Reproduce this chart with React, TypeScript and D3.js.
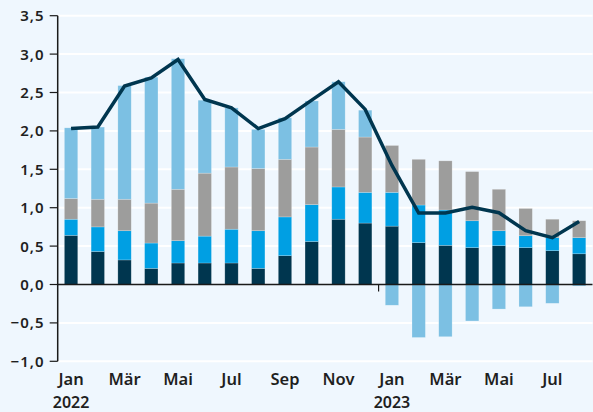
import React from "react";
import * as d3 from "d3";

const months = ["Jan", "Feb", "Mär", "Apr", "Mai", "Jun", "Jul", "Aug", "Sep", "Okt", "Nov", "Dez", "Jan", "Feb", "Mär", "Apr", "Mai", "Jun", "Jul", "Aug"];
const monthKeys = months.map((m, i) => `${i < 12 ? 2022 : 2023}-${m}`);
const labelEvery = [0, 2, 4, 6, 8, 10, 12, 14, 16, 18];
const yearLabels = [{ idx: 0, text: "2022" }, { idx: 12, text: "2023" }];

const navy = [0.64, 0.43, 0.32, 0.21, 0.28, 0.28, 0.28, 0.21, 0.375, 0.56, 0.85, 0.8, 0.76, 0.545, 0.51, 0.48, 0.505, 0.48, 0.44, 0.4];
const blue = [0.21, 0.32, 0.38, 0.33, 0.29, 0.35, 0.44, 0.49, 0.505, 0.48, 0.42, 0.4, 0.44, 0.49, 0.46, 0.35, 0.195, 0.155, 0.17, 0.21];
const gray = [0.27, 0.36, 0.41, 0.52, 0.67, 0.82, 0.81, 0.81, 0.75, 0.75, 0.75, 0.72, 0.61, 0.595, 0.64, 0.64, 0.54, 0.355, 0.24, 0.22];
const light = [0.92, 0.94, 1.48, 1.64, 1.7, 0.95, 0.77, 0.51, 0.54, 0.6, 0.62, 0.35, -0.27, -0.69, -0.68, -0.475, -0.32, -0.29, -0.245, -0.02];
const total = [2.03, 2.05, 2.585, 2.69, 2.93, 2.41, 2.3, 2.03, 2.16, 2.4, 2.64, 2.28, 1.55, 0.93, 0.93, 1.005, 0.935, 0.7, 0.61, 0.82];
const yTicks = [3.5, 3.0, 2.5, 2.0, 1.5, 1.0, 0.5, 0.0, -0.5, -1.0];

const seriesKeys = ["navy", "blue", "gray", "light"];
const colors: Record<string, string> = {
  navy: "#00364f",
  blue: "#009fe3",
  gray: "#9d9d9c",
  light: "#7cc0e3",
};

const W = 593;
const H = 412;
const left = 57.7;
const right = 592.5;
const font = "'Noto Sans', sans-serif";

export default function App() {
  const x = d3.scaleBand<string>().domain(monthKeys).range([left, right]).paddingInner(0.5).paddingOuter(0.25);
  const y = d3.scaleLinear().domain([-1, 3.5]).range([361.3, 15.7]);

  const rows = monthKeys.map((k, i) => ({ key: k, navy: navy[i], blue: blue[i], gray: gray[i], light: light[i] }));
  const stacked = d3.stack<any>().keys(seriesKeys).offset(d3.stackOffsetDiverging)(rows);

  const line = d3
    .line<number>()
    .x((_, i) => (x(monthKeys[i]) as number) + x.bandwidth() / 2)
    .y((d) => y(d));

  const fmt = (v: number) => v.toFixed(1).replace(".", ",").replace("-", "\u2212");
  const yearTickX = ((x(monthKeys[11]) as number) + (x(monthKeys[12]) as number) + x.bandwidth()) / 2;
  const ls = 1;

  return (
    <div style={{ position: "fixed", left: 0, top: 0 }}>
      <svg width={W} height={H} style={{ display: "block", background: "#eff7fe" }}>
        <rect x={0} y={0} width={W} height={H} fill="#eff7fe" />
        {yTicks.filter((t) => t !== 0).map((t) => (
          <line key={t} x1={left} x2={right} y1={y(t)} y2={y(t)} stroke="#ffffff" strokeWidth={2} />
        ))}
        {stacked.map((s) => (
          <g key={s.key} fill={colors[s.key]}>
            {s.map((d, i) => {
              const y0 = y(d[0]);
              const y1 = y(d[1]);
              const h = Math.abs(y0 - y1);
              if (h < 0.01) return null;
              return (
                <rect
                  key={i}
                  x={x(monthKeys[i]) as number}
                  width={x.bandwidth()}
                  y={Math.min(y0, y1)}
                  height={h}
                  stroke="#ffffff"
                  strokeOpacity={0.35}
                  strokeWidth={0.6}
                />
              );
            })}
          </g>
        ))}
        <line x1={left} x2={right} y1={y(0)} y2={y(0)} stroke="#1a1a1a" strokeWidth={1.5} />
        <line x1={yearTickX} x2={yearTickX} y1={y(0)} y2={y(0) + 7} stroke="#1a1a1a" strokeWidth={1.2} />
        <line x1={left} x2={left} y1={y(3.5)} y2={y(-1)} stroke="#1a1a1a" strokeWidth={1.5} />
        {yTicks.map((t) => (
          <g key={"t" + t}>
            <line x1={left - 8} x2={left} y1={y(t)} y2={y(t)} stroke="#1a1a1a" strokeWidth={1.2} />
            <text
              x={43.5 + ls}
              y={y(t)}
              dy="0.36em"
              textAnchor="end"
              fontFamily={font}
              fontWeight={600}
              fontSize={15}
              letterSpacing={ls}
              fill="#1f1f1f"
            >
              {fmt(t)}
            </text>
          </g>
        ))}
        <path d={line(total) || ""} fill="none" stroke="#00364f" strokeWidth={3.5} strokeLinejoin="miter" />
        {labelEvery.map((i) => (
          <text
            key={"m" + i}
            x={(x(monthKeys[i]) as number) + x.bandwidth() / 2}
            y={385}
            textAnchor="middle"
            fontFamily={font}
            fontWeight={600}
            fontSize={16.5}
            fill="#1f1f1f"
          >
            {months[i]}
          </text>
        ))}
        {yearLabels.map((yl) => (
          <text
            key={yl.text}
            x={(x(monthKeys[yl.idx]) as number) + x.bandwidth() / 2}
            y={407.5}
            textAnchor="middle"
            fontFamily={font}
            fontWeight={600}
            fontSize={16}
            fill="#1f1f1f"
          >
            {yl.text}
          </text>
        ))}
      </svg>
    </div>
  );
}
